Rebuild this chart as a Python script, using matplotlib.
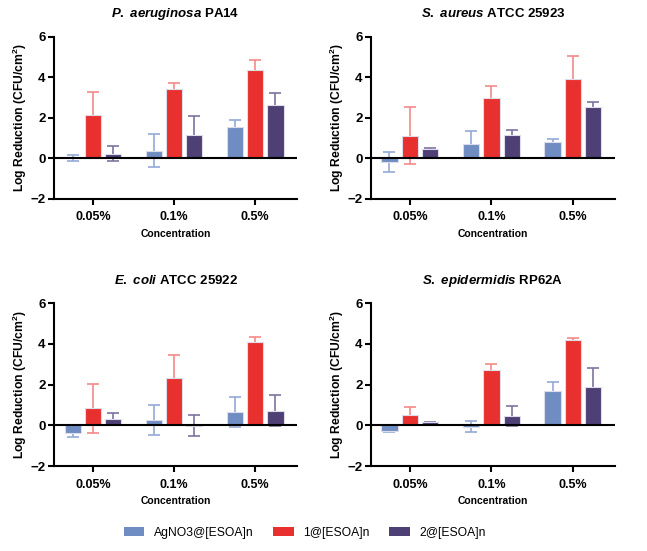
import numpy as np
import matplotlib
matplotlib.use("Agg")
import matplotlib.pyplot as plt
from matplotlib.patches import Patch

plt.rcParams['font.family'] = ['Liberation Sans', 'DejaVu Sans']
plt.rcParams['mathtext.fontset'] = 'custom'
plt.rcParams['mathtext.it'] = 'Liberation Sans:italic:bold'
plt.rcParams['mathtext.rm'] = 'Liberation Sans:bold'
plt.rcParams['mathtext.bf'] = 'Liberation Sans:bold'

# data
concs = ['0.05%', '0.1%', '0.5%']
series = ['AgNO3@[ESOA]n', '1@[ESOA]n', '2@[ESOA]n']
titles = [r'$P.\ aeruginosa$ PA14', r'$S.\ aureus$ ATCC 25923',
          r'$E.\ coli$ ATCC 25922', r'$S.\ epidermidis$ RP62A']

# P. aeruginosa
pa_mean = [[0.02, 0.39, 1.57], [2.15, 3.44, 4.36], [0.23, 1.15, 2.64]]
pa_err = [[0.14, 0.82, 0.33], [1.13, 0.26, 0.49], [0.36, 0.92, 0.57]]
# S. aureus
sa_mean = [[-0.17, 0.72, 0.79], [1.13, 2.97, 3.90], [0.46, 1.18, 2.56]]
sa_err = [[0.50, 0.61, 0.16], [1.40, 0.60, 1.15], [0.03, 0.20, 0.21]]
# E. coli
ec_mean = [[-0.36, 0.27, 0.65], [0.83, 2.34, 4.10], [0.33, -0.02, 0.72]]
ec_err = [[0.20, 0.75, 0.72], [1.20, 1.09, 0.24], [0.26, 0.52, 0.77]]
# S. epidermidis
se_mean = [[-0.26, -0.06, 1.69], [0.52, 2.70, 4.18], [0.15, 0.47, 1.90]]
se_err = [[0.05, 0.26, 0.46], [0.40, 0.30, 0.10], [0.03, 0.50, 0.93]]

means = [pa_mean, sa_mean, ec_mean, se_mean]
errs = [pa_err, sa_err, ec_err, se_err]

colors = ['#6F8DC2', '#E8312E', '#4E3F74']
err_colors = ['#93A9D6', '#F28A88', '#7F729E']

fig = plt.figure(figsize=(6.47, 5.51), dpi=100)
positions = [[0.0835, 0.639, 0.376, 0.294], [0.573, 0.639, 0.378, 0.294],
             [0.0835, 0.154, 0.376, 0.296], [0.573, 0.154, 0.378, 0.296]]

x = np.arange(len(concs))
w = 0.2
offs = [-0.25, 0.0, 0.25]

for k in range(4):
    ax = fig.add_axes(positions[k])
    for s in range(3):
        ax.errorbar(x + offs[s], means[k][s], yerr=errs[k][s], fmt='none',
                    ecolor=err_colors[s], elinewidth=1.2, capsize=4, capthick=1.2, zorder=1)
        ax.bar(x + offs[s], means[k][s], width=w, color=colors[s],
               edgecolor='#dcdcea', linewidth=0.8, zorder=2)
    ax.axhline(0, color='black', lw=1.5, zorder=3)
    ax.set_xlim(-0.48, 2.52)
    ax.set_ylim(-2, 6)
    ax.set_yticks([-2, 0, 2, 4, 6])
    ax.set_xticks(x)
    ax.set_xticklabels(concs, fontweight='bold', fontsize=9)
    for lab in ax.get_yticklabels():
        lab.set_fontweight('bold')
        lab.set_fontsize(9.5)
    ax.spines['top'].set_visible(False)
    ax.spines['right'].set_visible(False)
    ax.spines['left'].set_linewidth(1.5)
    ax.spines['bottom'].set_linewidth(1.5)
    ax.tick_params(direction='out', width=1.5, length=4, pad=2)
    ax.tick_params(axis='x', pad=5)
    ax.set_ylabel('Log Reduction (CFU/cm$^2$)', fontweight='bold', fontsize=8.7, labelpad=1)
    ax.set_xlabel('Concentration', fontweight='bold', fontsize=7.5, labelpad=4)
    ax.set_title(titles[k], fontweight='bold', fontsize=9.5, pad=14)

handles = [Patch(facecolor=colors[s], edgecolor='none') for s in range(3)]
fig.legend(handles, series, loc='center', bbox_to_anchor=(0.471, 0.033), ncol=3,
           frameon=False, fontsize=8.7, handlelength=1.7, handleheight=0.8,
           columnspacing=1.6, handletextpad=0.8)

fig.savefig('out.png', dpi=100)
